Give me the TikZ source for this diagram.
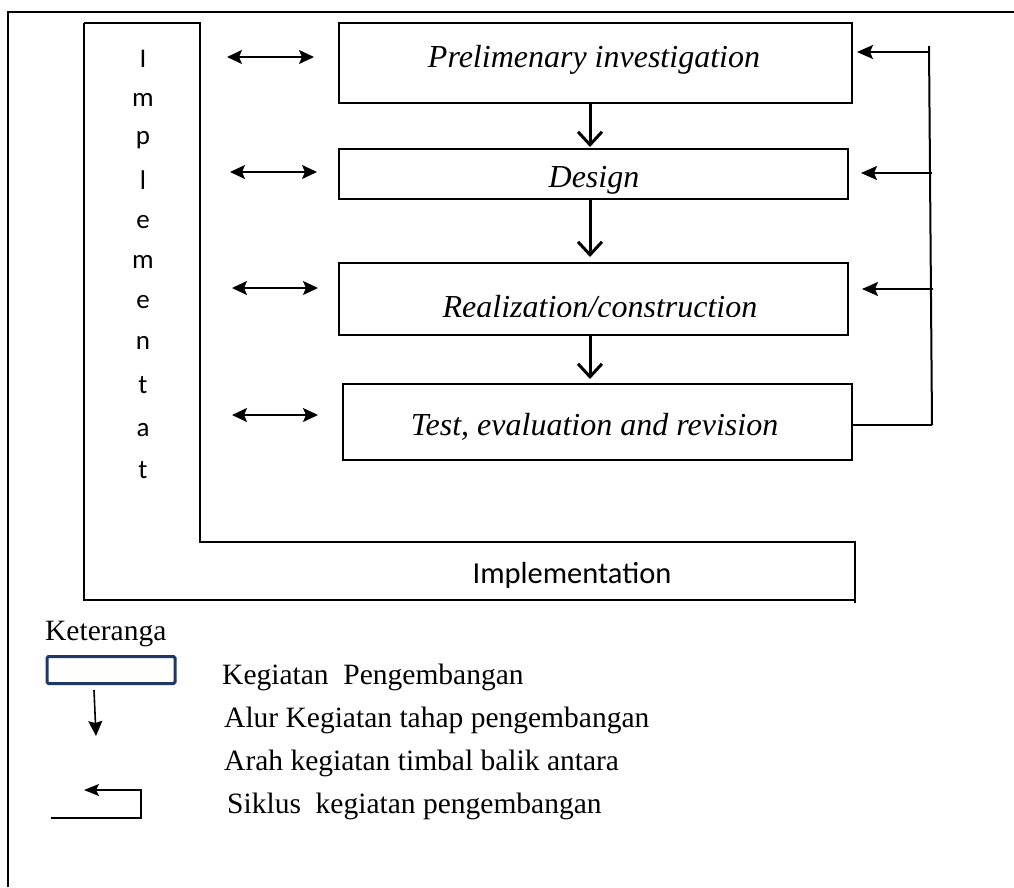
\documentclass[tikz,border=0pt]{standalone}
\usepackage{fontspec}
\setmainfont{Liberation Serif}
\newfontfamily\carlito{Carlito}
\usetikzlibrary{arrows.meta}
\definecolor{navy}{RGB}{31,56,100}
\begin{document}
\begin{tikzpicture}[x=1pt,y=-1pt,
  line/.style={line width=1.5pt, line join=miter},
  stagebox/.style={draw, line width=1.5pt, inner sep=0pt},
  stagetext/.style={font=\fontsize{32}{32}\selectfont\itshape, inner sep=0pt, anchor=base},
  letter/.style={font=\carlito\fontsize{27}{27}\selectfont, inner sep=0pt},
  twoway/.style={line width=1.7pt, {Stealth[length=15pt,width=14pt,inset=3pt]}-{Stealth[length=15pt,width=14pt,inset=3pt]}},
  flow/.style={line width=3pt, -{Straight Barb[length=13pt,width=24pt,line width=3pt]}},
  back/.style={line width=1.7pt, -{Stealth[length=16pt,width=14pt,inset=3pt]}},
  legendtext/.style={font=\fontsize{29.5}{29.5}\selectfont, inner sep=0pt, anchor=base west}]
\useasboundingbox (0,0) rectangle (1014,887);
\fill[white] (0,0) rectangle (1014,887);

% page frame
\draw[line width=2pt] (8,887) -- (8,12) -- (1014,12);

% L-shaped implementation band
\draw[line] (84,23) -- (200,23) -- (200,542) -- (855,542) -- (855,603);
\draw[line] (84,23) -- (84,600) -- (855,600);
\foreach \ch/\yy [count=\i] in {I/59,m/100,p/140,l/180,e/222,m/262,e/302,n/343,t/385,a/430,t/470}
  \node[letter] (v\i) at (143,\yy) {\ch};
\node[font=\carlito\fontsize{30.5}{30.5}\selectfont, inner sep=0pt] (impl) at (572,575) {Implementation};

% development stages
\node[stagebox, minimum width=513pt, minimum height=80pt] (s1) at (595.5,63) {};
\node[stagebox, minimum width=509pt, minimum height=50pt] (s2) at (593.5,174) {};
\node[stagebox, minimum width=509pt, minimum height=72pt] (s3) at (593.5,299) {};
\node[stagebox, minimum width=509pt, minimum height=76pt] (s4) at (597.5,422) {};
\node[stagetext] (t1) at (594,67) {Prelimenary investigation};
\node[stagetext] (t2) at (594,187) {Design};
\begin{scope}
  \clip (340,270) rectangle (848,316.5);
  \node[stagetext] (t3) at (600,317) {Realization/construction};
\end{scope}
\node[stagetext] (t4) at (594.5,435) {Test, evaluation and revision};

% flow between stages
\draw[flow] (590,103) -- (590,147);
\draw[flow] (590,199) -- (590,257);
\draw[flow] (590,335) -- (590,379);

% two-way arrows between implementation and stages
\coordinate (a1l) at (227,57);  \coordinate (a1r) at (314,57);
\coordinate (a2l) at (230,172); \coordinate (a2r) at (317,172);
\coordinate (a3l) at (232,288); \coordinate (a3r) at (318,288);
\coordinate (a4l) at (232,415); \coordinate (a4r) at (318,415);
\draw[twoway] (a1l) -- (a1r);
\draw[twoway] (a2l) -- (a2r);
\draw[twoway] (a3l) -- (a3r);
\draw[twoway] (a4l) -- (a4r);

% feedback cycle on the right
\coordinate (fbtop) at (929,46);
\coordinate (fbbot) at (932,425);
\draw[line width=2pt] (fbtop) -- (fbbot);
\draw[line] (s4.east |- fbbot) -- (fbbot);
\draw[back] (929,52) -- (857,52);
\draw[back] (932,173) -- (861,173);
\draw[back] (933,289) -- (862,289);

% legend
\node[legendtext] (ket) at (45,640) {Keteranga};
\node[draw=navy, line width=3pt, rounded corners=1.5pt, minimum width=128pt, minimum height=27pt, inner sep=0pt] (lbox) at (111,670) {};
\coordinate (lar1) at (94,690);
\coordinate (lar2) at (96,736);
\draw[line width=1.6pt, -{Stealth[length=15pt,width=14pt,inset=2pt]}] (lar1) -- (lar2);
\coordinate (lc1) at (51,818);
\coordinate (lc2) at (141,818);
\coordinate (lc3) at (141,790);
\coordinate (lc4) at (84,790);
\draw[line width=1.6pt, -{Stealth[length=15pt,width=12pt,inset=3pt]}] (lc1) -- (lc2) -- (lc3) -- (lc4);
\node[legendtext] (k1) at (222,684) {Kegiatan\ \ Pengembangan};
\node[legendtext] (k2) at (224,727) {Alur Kegiatan tahap pengembangan};
\node[legendtext] (k3) at (224,770) {Arah kegiatan timbal\ balik\ antara};
\node[legendtext] (k4) at (227,813) {Siklus\ \ kegiatan pengembangan};
\end{tikzpicture}
\end{document}
